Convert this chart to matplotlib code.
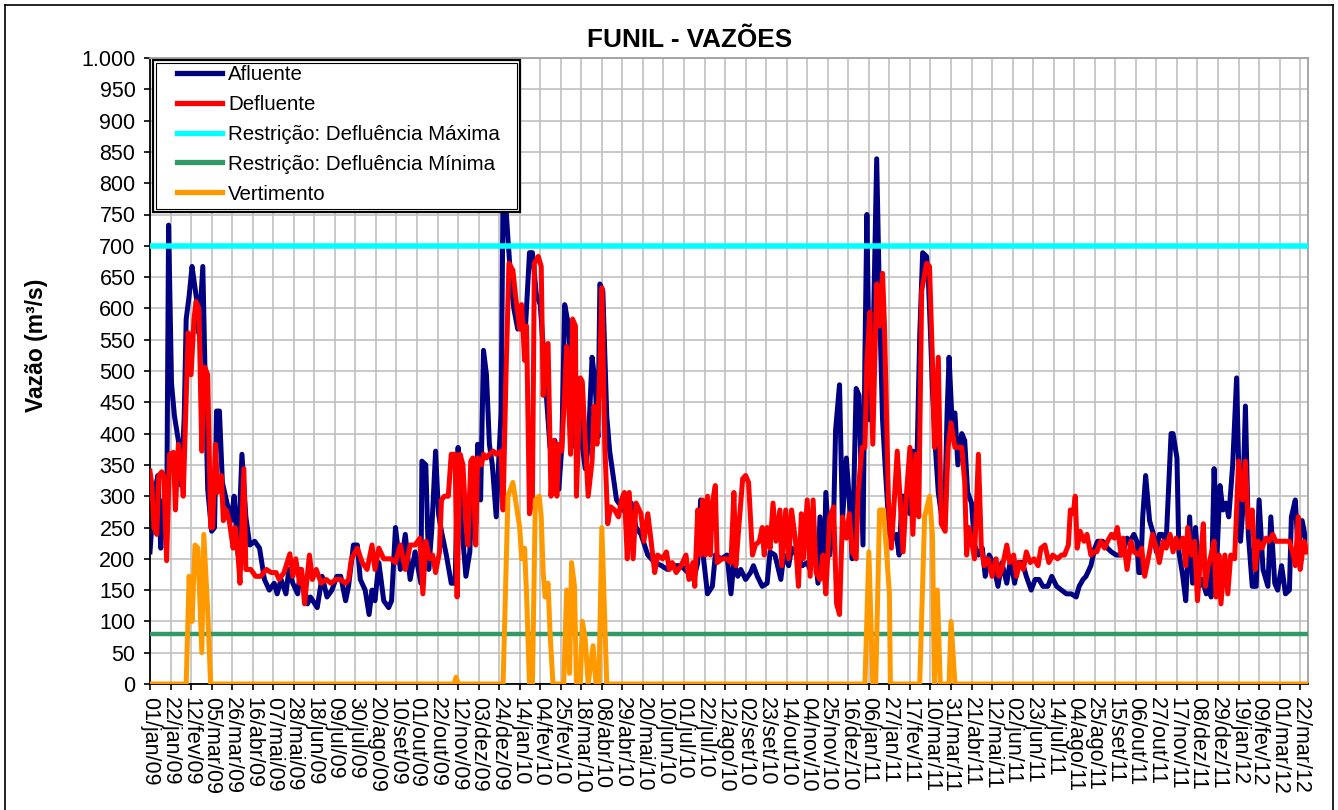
import matplotlib
matplotlib.use('Agg')
import matplotlib.pyplot as plt
from matplotlib.patches import Rectangle
from matplotlib.lines import Line2D
from matplotlib.ticker import FuncFormatter, MultipleLocator

plt.rcParams['font.family'] = ['Liberation Sans', 'DejaVu Sans']

# ---------------- data (days since 01/jan/2009) ----------------
afl_days = [0,4,8,11,14,17,19,22,25,29,32,35,37,40,43,45,48,50,54,56,59,63,66,68,71,74,78,83,86,90,94,98,102,107,112,117,122,127,130,134,139,142,146,151,154,161,164,171,176,181,186,191,
            195,200,203,208,212,215,220,224,227,230,234,239,244,247,251,256,261,266,271,277,278,282,285,288,292,295,298,303,308,312,315,318,323,327,330,333,335,338,341,344,347,350,354,357,359,361,364,366,369,372,376,379,384,388,391,395,
            399,402,406,409,414,418,421,424,428,431,435,437,441,445,448,452,455,458,460,463,467,470,474,477,482,487,492,497,502,509,516,523,529,536,543,550,556,560,563,566,570,575,578,584,590,
            594,597,601,604,609,614,617,621,626,631,634,639,645,648,653,656,661,667,672,675,678,683,685,689,691,695,699,701,705,708,712,715,718,722,725,729,731,733,736,739,743,746,749,752,756,760,763,766,769,772,777,780,783,787,790,794,
            796,798,800,803,806,810,813,815,817,820,823,826,830,833,836,840,843,847,851,854,858,862,867,871,876,880,884,888,892,896,901,905,909,913,918,922,927,932,937,942,947,950,954,957,962,966,969,974,979,983,988,993,
            995,999,1002,1006,1009,1011,1013,1015,1018,1022,1026,1029,1032,1035,1039,1044,1046,1050,1052,1056,1059,1063,1066,1069,1073,1076,1080,1083,1085,1088,1091,1094,1097,1100,1103,1107,1111,1115,1117,1120,1123,1127,1131,1134,1138,1143,1146,1150,1153,1157,1161,1165,1167,1171,1174,1178,1182]
afl_vals = [211,300,333,217,294,240,733,480,428,389,317,428,583,620,667,644,611,560,667,517,311,244,250,436,436,322,294,261,300,206,367,267,222,228,217,167,150,161,144,167,144,183,161,144,183,128,139,122,172,139,150,172,
            172,133,156,222,222,167,150,111,150,133,194,133,122,133,250,183,239,167,211,161,356,350,183,244,372,272,244,206,161,161,378,267,172,211,333,256,383,294,533,494,383,350,267,372,433,790,760,711,644,600,567,589,572,689,689,622,
            606,539,444,378,389,311,378,606,572,483,378,483,394,344,378,522,483,394,639,628,428,372,328,294,283,272,289,250,239,206,194,189,183,189,189,178,167,194,294,200,144,156,206,200,206,
            144,194,172,183,167,178,189,172,156,161,211,206,167,206,189,217,206,189,194,183,233,161,267,172,306,206,267,406,478,261,361,294,200,472,461,222,528,750,422,517,839,600,422,339,239,233,239,206,300,300,272,372,272,556,689,683,
            639,561,472,378,306,261,306,433,522,422,433,350,400,389,306,289,222,206,217,172,206,194,156,194,161,200,161,194,194,172,150,167,167,156,156,172,156,150,144,144,139,156,167,172,189,217,228,228,217,211,206,206,
            211,233,228,239,228,178,178,267,333,261,239,211,239,239,228,400,400,361,211,172,133,267,161,250,156,167,144,172,139,344,206,317,278,289,267,350,489,228,272,444,239,156,156,294,183,156,267,161,150,189,144,150,267,294,211,261,228]

def_days = [0,2,4,7,9,12,14,17,20,24,26,29,31,34,36,39,42,45,47,50,53,56,59,62,64,67,69,73,75,78,81,85,87,90,92,96,98,103,108,113,119,124,129,132,137,143,146,149,153,155,158,163,166,170,175,180,185,190,
            195,200,203,206,212,217,222,227,230,234,239,246,251,256,261,266,271,276,279,282,286,289,292,296,298,301,305,308,312,314,317,320,323,325,328,330,333,335,339,341,344,347,351,354,359,361,364,367,371,374,378,380,383,385,388,391,393,397,
            400,402,405,407,410,413,416,418,421,424,426,430,432,435,436,440,442,445,448,452,454,457,460,462,465,468,471,475,479,482,485,488,490,494,497,502,505,509,512,516,519,524,528,531,534,538,543,548,551,555,557,560,563,565,568,570,573,575,578,580,585,590,
            594,597,599,602,606,609,612,616,619,623,626,628,631,634,637,640,644,646,650,653,656,660,663,666,668,672,675,678,681,685,688,691,695,699,702,705,708,712,715,718,722,724,728,731,733,736,739,743,746,749,751,755,758,760,764,767,770,773,777,780,783,786,789,794,797,
            800,802,806,809,813,816,819,823,827,830,833,835,837,840,843,847,850,853,857,861,865,868,871,876,879,883,886,889,893,896,900,904,908,911,915,919,923,928,932,935,939,941,944,946,948,951,955,958,962,965,968,972,976,979,983,986,989,993,
            995,999,1003,1006,1011,1014,1017,1022,1025,1029,1032,1036,1039,1043,1046,1049,1052,1056,1059,1061,1065,1068,1071,1074,1077,1079,1082,1084,1088,1090,1093,1095,1099,1102,1105,1109,1113,1117,1120,1123,1127,1130,1133,1137,1141,1144,1148,1151,1154,1158,1161,1165,1169,1171,1174,1176,1180,1183]
def_vals = [340,317,250,239,333,339,333,197,367,370,278,383,361,300,405,561,494,583,611,600,372,506,494,250,250,383,306,333,261,278,261,217,250,206,161,344,183,183,172,172,183,178,178,167,178,208,172,200,161,183,128,206,167,183,161,167,161,167,
            167,161,167,200,217,194,183,222,183,217,200,200,194,222,183,222,222,233,144,228,200,206,178,211,294,300,300,367,367,139,367,350,256,222,356,361,222,361,350,367,361,367,372,367,372,278,494,672,661,617,567,606,517,572,272,294,672,683,
            667,461,539,544,300,389,300,383,372,467,539,367,583,572,300,489,483,389,300,356,444,383,506,633,383,256,283,278,267,294,306,200,306,200,289,272,228,272,233,178,206,200,211,183,194,178,189,206,167,194,156,278,206,294,206,300,206,289,317,194,200,200,
            194,306,189,250,328,333,322,206,222,228,250,206,250,217,289,228,278,189,278,200,278,228,156,272,200,294,172,294,178,167,206,144,267,283,128,111,267,233,272,211,200,306,378,378,517,594,383,639,572,656,572,294,217,267,372,294,211,294,378,239,367,267,628,672,667,
            517,378,522,256,244,378,417,378,378,378,322,206,250,228,200,367,217,189,200,172,200,172,183,222,194,206,172,194,183,211,194,200,189,217,222,194,206,200,206,206,222,278,272,300,217,244,228,239,206,211,211,228,217,228,239,233,250,206,
            233,183,228,211,206,217,172,211,239,217,194,228,217,239,211,233,217,233,189,250,206,228,133,200,256,156,189,200,228,139,206,128,206,144,206,200,356,294,356,250,278,183,228,217,233,228,239,228,228,228,228,228,206,189,267,183,228,211]

vert_days = [0,37,40,43,46,49,53,55,59,62, 311,313,315,
             361,366,371,378,380,383,385,388,391,394,398,400,402,404,407,409,412,
             423,426,429,431,434,436, 440,442,445,448,453,456,459,462,467,
             731,735,739,742,746,750,756,757, 787,792,797,800,802,805,808,
             817,819,823, 1184]
vert_vals = [0,0,172,100,222,217,50,239,117,0, 0,11,0,
             0,300,322,250,200,217,144,0,0,294,300,267,178,139,161,83,0,
             0,150,17,194,156,0, 0,100,72,0,61,0,0,250,0,
             0,211,0,0,278,278,144,0, 0,267,300,239,0,150,0,
             0,100,0, 0]

restricao_max = 700
restricao_min = 80

tick_labels = ['01/jan/09','22/jan/09','12/fev/09','05/mar/09','26/mar/09','16/abr/09','07/mai/09','28/mai/09',
               '18/jun/09','09/jul/09','30/jul/09','20/ago/09','10/set/09','01/out/09','22/out/09','12/nov/09',
               '03/dez/09','24/dez/09','14/jan/10','04/fev/10','25/fev/10','18/mar/10','08/abr/10','29/abr/10',
               '20/mai/10','10/jun/10','01/jul/10','22/jul/10','12/ago/10','02/set/10','23/set/10','14/out/10',
               '04/nov/10','25/nov/10','16/dez/10','06/jan/11','27/jan/11','17/fev/11','10/mar/11','31/mar/11',
               '21/abr/11','12/mai/11','02/jun/11','23/jun/11','14/jul/11','04/ago/11','25/ago/11','15/set/11',
               '06/out/11','27/out/11','17/nov/11','08/dez/11','29/dez/11','19/jan/12','09/fev/12','01/mar/12',
               '22/mar/12']
tick_step_days = 21
last_day = 1184

series_labels = ['Afluente', 'Defluente', 'Restrição: Defluência Máxima',
                 'Restrição: Defluência Mínima', 'Vertimento']
colors = ['#000080', '#FF0000', '#00FFFF', '#339966', '#FF9900']

# ---------------- figure ----------------
W, H = 1338, 810
fig = plt.figure(figsize=(W / 100, H / 100), dpi=100)
ax = fig.add_axes([150 / W, 1 - 684 / H, (1308 - 150) / W, (684 - 58) / H])

lw = 3.6
ax.plot(afl_days, afl_vals, color=colors[0], lw=lw, zorder=2, solid_joinstyle='round')
ax.plot(def_days, def_vals, color=colors[1], lw=lw, zorder=3, solid_joinstyle='round')
ax.axhline(restricao_max, color=colors[2], lw=4, zorder=4)
ax.axhline(restricao_min, color=colors[3], lw=3.2, zorder=5)
ax.plot(vert_days, vert_vals, color=colors[4], lw=lw, zorder=6, solid_joinstyle='round')

ax.set_xlim(0, last_day)
ax.set_ylim(0, 1000)
ax.yaxis.set_major_locator(MultipleLocator(50))
ax.yaxis.set_major_formatter(FuncFormatter(lambda v, p: f"{int(round(v)):,}".replace(',', '.')))
ax.set_xticks([i * tick_step_days for i in range(len(tick_labels))])
ax.set_xticklabels(tick_labels, rotation=-90, ha='center', va='top')

ax.grid(True, color='#c0c0c0', lw=1.2)
ax.set_axisbelow(True)
ax.tick_params(axis='both', direction='out', length=4.5, width=1.2, labelsize=15.5, colors='black')
ax.tick_params(axis='y', pad=6)
ax.tick_params(axis='x', pad=5)
for s in ['left', 'bottom']:
    ax.spines[s].set_color('black')
    ax.spines[s].set_linewidth(1.3)
for s in ['top', 'right']:
    ax.spines[s].set_color('#a0a0a0')
    ax.spines[s].set_linewidth(1.3)

# legend with double border box
box_l, box_r, box_t, box_b = 153, 520, 60, 212
ax.add_patch(Rectangle((box_l / W, 1 - box_b / H), (box_r - box_l) / W, (box_b - box_t) / H,
                       transform=fig.transFigure, facecolor='white', edgecolor='black',
                       lw=1.6, zorder=10, clip_on=False))
ax.add_patch(Rectangle(((box_l + 3) / W, 1 - (box_b - 3) / H), (box_r - box_l - 6) / W, (box_b - box_t - 6) / H,
                       transform=fig.transFigure, facecolor='none', edgecolor='black',
                       lw=0.8, zorder=10.5, clip_on=False))
handles = [Line2D([], [], color=c, lw=3.8) for c in colors]
leg = ax.legend(handles, series_labels, loc='upper left', bbox_to_anchor=(177 / W, 1 - 65 / H),
                bbox_transform=fig.transFigure, frameon=False, fontsize=14.8, handlelength=2.2,
                handletextpad=0.3, labelspacing=0.53, borderpad=0, borderaxespad=0)
leg.set_zorder(11)

fig.text(690 / W, 1 - 40 / H, 'FUNIL - VAZÕES', ha='center', va='center', fontsize=18.8, fontweight='bold')
fig.text(37 / W, 1 - 345 / H, 'Vazão (m³/s)', rotation=90, ha='center', va='center', fontsize=16.5, fontweight='bold')

# outer border
for xs, ys in [([5, 5], [5, 812]), ([5, 1333], [5, 5]), ([1333, 1333], [5, 812])]:
    fig.add_artist(Line2D([x / W for x in xs], [1 - y / H for y in ys], transform=fig.transFigure,
                          color='black', lw=1.2))

fig.savefig('out.png', dpi=100, facecolor='white')
